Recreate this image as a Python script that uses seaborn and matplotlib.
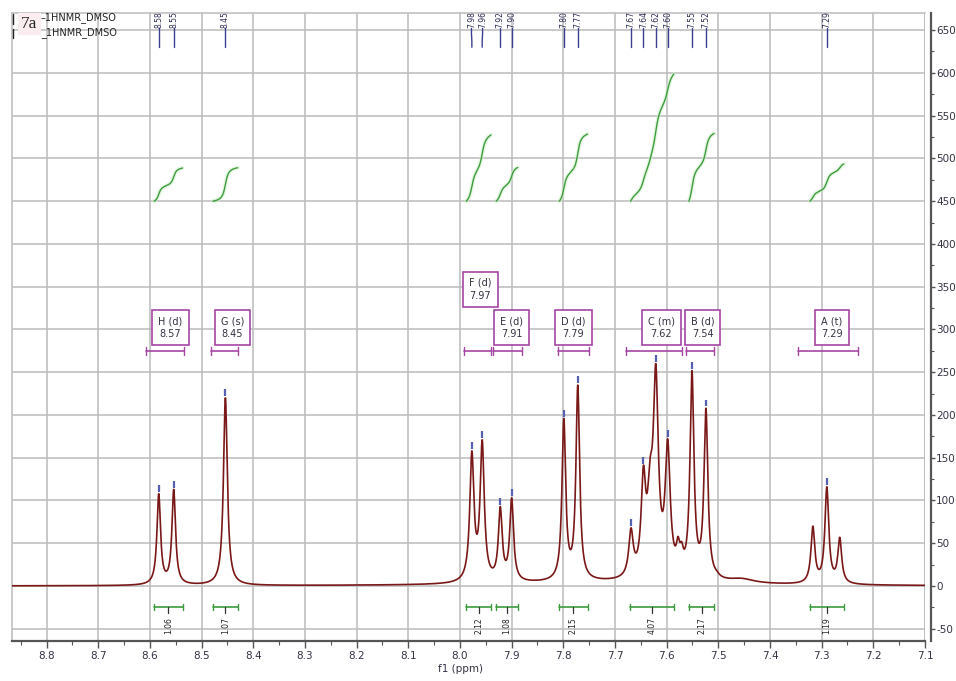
import numpy as np
import matplotlib
matplotlib.use("Agg")
import matplotlib.pyplot as plt
import seaborn as sns
from matplotlib.ticker import MultipleLocator, FormatStrFormatter
from matplotlib.lines import Line2D

# ---- peak picks (ppm) with their heights and half-widths ----
peak_ppm = [8.583, 8.554, 8.454, 7.977, 7.957, 7.922, 7.900, 7.799, 7.772,
            7.669, 7.645, 7.621, 7.598, 7.551, 7.524, 7.290]
peak_height = [108, 113, 220, 158, 171, 93, 103, 196, 235,
               68, 141, 260, 172, 252, 208, 116]
peak_width = [0.0042, 0.0042, 0.0045, 0.0048, 0.0048, 0.0044, 0.0044, 0.0043, 0.0043,
              0.0052, 0.0052, 0.0058, 0.0058, 0.0045, 0.0045, 0.0045]

# lines that are not picked
extra_ppm = [7.632, 7.578, 7.571, 7.317, 7.265, 7.503]
extra_height = [150, 58, 52, 70, 57, 18]
extra_width = [0.0060, 0.0040, 0.0040, 0.0045, 0.0045, 0.006]

# broad baseline humps
broad_ppm = [7.72, 7.455]
broad_height = [3.5, 5]
broad_width = [0.25, 0.03]

# ---- integrals ----
integ_hi = [8.592, 8.478, 7.988, 7.930, 7.808, 7.670, 7.557, 7.323]
integ_lo = [8.537, 8.430, 7.940, 7.888, 7.753, 7.586, 7.508, 7.257]
integ_val = [1.06, 1.07, 2.12, 1.08, 2.15, 4.07, 2.17, 1.19]

# ---- multiplets ----
mult_name = ["H", "G", "F", "E", "D", "C", "B", "A"]
mult_kind = ["d", "s", "d", "d", "d", "m", "d", "t"]
mult_shift = [8.57, 8.45, 7.97, 7.91, 7.79, 7.62, 7.54, 7.29]
mult_hi = [8.608, 8.482, 7.992, 7.936, 7.810, 7.678, 7.563, 7.346]
mult_lo = [8.534, 8.430, 7.940, 7.880, 7.750, 7.570, 7.508, 7.230]

x_ticks = [8.8, 8.7, 8.6, 8.5, 8.4, 8.3, 8.2, 8.1, 8.0, 7.9, 7.8, 7.7,
           7.6, 7.5, 7.4, 7.3, 7.2, 7.1]

sns.set_theme(style="white")
plt.rcParams["font.family"] = ["DejaVu Sans"]
plt.rcParams["axes.unicode_minus"] = False

SPEC = "#7a1818"
GRID = "#bbbbbb"
AXC = "#555555"
TXT = "#333344"
PURP = "#a445a4"
GREEN = "#3d9c3d"
NAVY = "#3b3f92"


def lor(x, x0, w):
    return 1.0 / (1.0 + ((x - x0) / w) ** 2)


ppm = np.linspace(8.867, 7.1, 7000)

bg = np.zeros_like(ppm)
for c, h, w in zip(broad_ppm, broad_height, broad_width):
    bg += h * lor(ppm, c, w)

sharp_ppm = np.array(peak_ppm + extra_ppm)
sharp_h = np.array(peak_height + extra_height, float)
sharp_w = np.array(peak_width + extra_width)
bg_at = np.zeros_like(sharp_ppm)
for c, h, w in zip(broad_ppm, broad_height, broad_width):
    bg_at += h * lor(sharp_ppm, c, w)

# amplitudes so that the summed curve passes through the picked heights
M = lor(sharp_ppm[:, None], sharp_ppm[None, :], sharp_w[None, :])
amp = np.linalg.solve(M, sharp_h - bg_at)
amp = np.clip(amp, 0, None)
spec = bg + (amp[None, :] * lor(ppm[:, None], sharp_ppm[None, :], sharp_w[None, :])).sum(axis=1)

fig = plt.figure(figsize=(9.56, 6.81), dpi=100)
ax = fig.add_axes([12 / 956, 1 - 641 / 681, 913 / 956, 628 / 681])
ax.set_xlim(8.867, 7.1)
ax.set_ylim(-64.3, 670)

ax.set_xticks(x_ticks)
ax.xaxis.set_minor_locator(MultipleLocator(0.05))
ax.xaxis.set_major_formatter(FormatStrFormatter("%.1f"))
ax.yaxis.set_major_locator(MultipleLocator(50))
ax.yaxis.set_minor_locator(MultipleLocator(25))
ax.yaxis.tick_right()
ax.grid(True, which="major", color=GRID, lw=1.1)
ax.set_axisbelow(True)

for side in ["left", "top"]:
    ax.spines[side].set_color(GRID)
    ax.spines[side].set_linewidth(1.1)
ax.spines["right"].set_position(("outward", 4))
ax.spines["right"].set_color(AXC)
ax.spines["right"].set_linewidth(1.6)
ax.spines["bottom"].set_color(AXC)
ax.spines["bottom"].set_linewidth(1.6)
ax.axvline(7.1, color=GRID, lw=1.1, zorder=0)

ax.tick_params(axis="x", which="major", direction="out", length=5, width=1, color=AXC,
               labelsize=7.5, labelcolor=TXT, pad=2, bottom=True)
ax.tick_params(axis="x", which="minor", direction="out", length=3, width=0.8, color=AXC, bottom=True)
ax.tick_params(axis="y", which="major", direction="out", length=3, width=1, color=AXC,
               labelsize=7.5, labelcolor=TXT, pad=1, right=True, left=False)
ax.tick_params(axis="y", which="minor", direction="out", length=2, width=0.8, color=AXC,
               right=True, left=False)
ax.set_xlabel("f1 (ppm)", fontsize=7.5, color=TXT)
ax.xaxis.set_label_coords((461 - 12) / 913, -0.036)
ax.set_ylabel("")

# spectrum
sns.lineplot(x=ppm, y=spec, ax=ax, color=SPEC, lw=1.2, sort=False, estimator=None, zorder=3)


def spread(xs, sep):
    xs = np.asarray(xs, float)
    order = np.argsort(xs)[::-1]
    pos = xs[order].copy()
    for _ in range(300):
        moved = False
        for i in range(len(pos) - 1):
            gap = pos[i] - pos[i + 1]
            if gap < sep - 1e-9:
                d = (sep - gap) / 2
                pos[i] += d
                pos[i + 1] -= d
                moved = True
        if not moved:
            break
    out = np.empty_like(pos)
    out[order] = pos
    return out


# peak-top markers and pick labels
lab_x = spread(peak_ppm, 0.0215)
for p, h, lx in zip(peak_ppm, peak_height, lab_x):
    ax.plot([p, p], [h + 2, h + 10], color="#5560b0", lw=1.6, zorder=4, solid_capstyle="butt")
    ax.text(lx, 652, f"{p:.2f}", rotation=90, ha="center", va="bottom",
            fontsize=5.5, color="#2b2b55", clip_on=False)
    ax.plot([lx, lx, p, p], [652, 646, 637, 630], color=NAVY, lw=1.0)

# integrals
ISCALE = 36.5
for hi, lo, val in zip(integ_hi, integ_lo, integ_val):
    sel = (ppm <= hi) & (ppm >= lo)
    xs = ppm[sel]
    ys = spec[sel]
    cum = np.concatenate([[0], np.cumsum(0.5 * (ys[1:] + ys[:-1]) * np.abs(np.diff(xs)))])
    cum = cum / cum[-1]
    ax.plot(xs, 450 + cum * val * ISCALE, color="#cdeec6", lw=3.0, alpha=0.5, zorder=2)
    ax.plot(xs, 450 + cum * val * ISCALE, color=GREEN, lw=1.0, zorder=3)
    mid = 0.5 * (hi + lo)
    ax.plot([hi, lo], [-24.5, -24.5], color=GREEN, lw=1.2)
    for e in (hi, lo):
        ax.plot([e, e], [-21, -28], color=GREEN, lw=1.0)
    ax.plot([mid, mid], [-24.5, -32], color="#333333", lw=0.9)
    ax.text(mid, -46, f"{val:.2f}", rotation=90, ha="center", va="center",
            fontsize=5.5, color="#222222")

# multiplet boxes and ranges
box_w = 0.068
placed = []
levels = {}
for i in np.argsort(mult_shift):
    s = mult_shift[i]
    lvl = 0
    while any(abs(s - ps) < box_w and pl == lvl for ps, pl in placed):
        lvl += 1
    placed.append((s, lvl))
    levels[i] = lvl

for i, (nm, kd, s, hi, lo) in enumerate(zip(mult_name, mult_kind, mult_shift, mult_hi, mult_lo)):
    y = 302 + 45 * levels[i]
    ax.annotate(f"{nm} ({kd})\n{s:.2f}", xy=(s, y), xytext=(3.6, 0), textcoords="offset points",
                ha="center", va="center", fontsize=7, color=TXT, linespacing=1.35,
                bbox=dict(boxstyle="square,pad=0.62", facecolor="white", edgecolor=PURP, lw=1.2),
                zorder=5)
    ax.plot([hi, lo], [274.7, 274.7], color=PURP, lw=1.2)
    for e in (hi, lo):
        ax.plot([e, e], [270.5, 279], color=PURP, lw=1.0)

# title block in the upper-left corner
fig.text(21 / 956, 1 - 24 / 681, "7a", family="Liberation Serif", fontsize=12.5,
         ha="left", va="center", color="#222222",
         bbox=dict(facecolor="#fbecef", edgecolor="none", pad=2.5))
fig.text(41 / 956, 1 - 18 / 681, "\u20131HNMR_DMSO", fontsize=7, ha="left", va="center", color="#222222")
fig.text(41 / 956, 1 - 33 / 681, "_1HNMR_DMSO", fontsize=7, ha="left", va="center", color="#222222")
fig.add_artist(Line2D([12.5 / 956, 12.5 / 956], [1 - 14 / 681, 1 - 24 / 681], color="#222222", lw=1.0))
fig.add_artist(Line2D([12.5 / 956, 12.5 / 956], [1 - 29 / 681, 1 - 38 / 681], color="#222222", lw=1.0))

fig.savefig("out.png", dpi=100, facecolor="white")
